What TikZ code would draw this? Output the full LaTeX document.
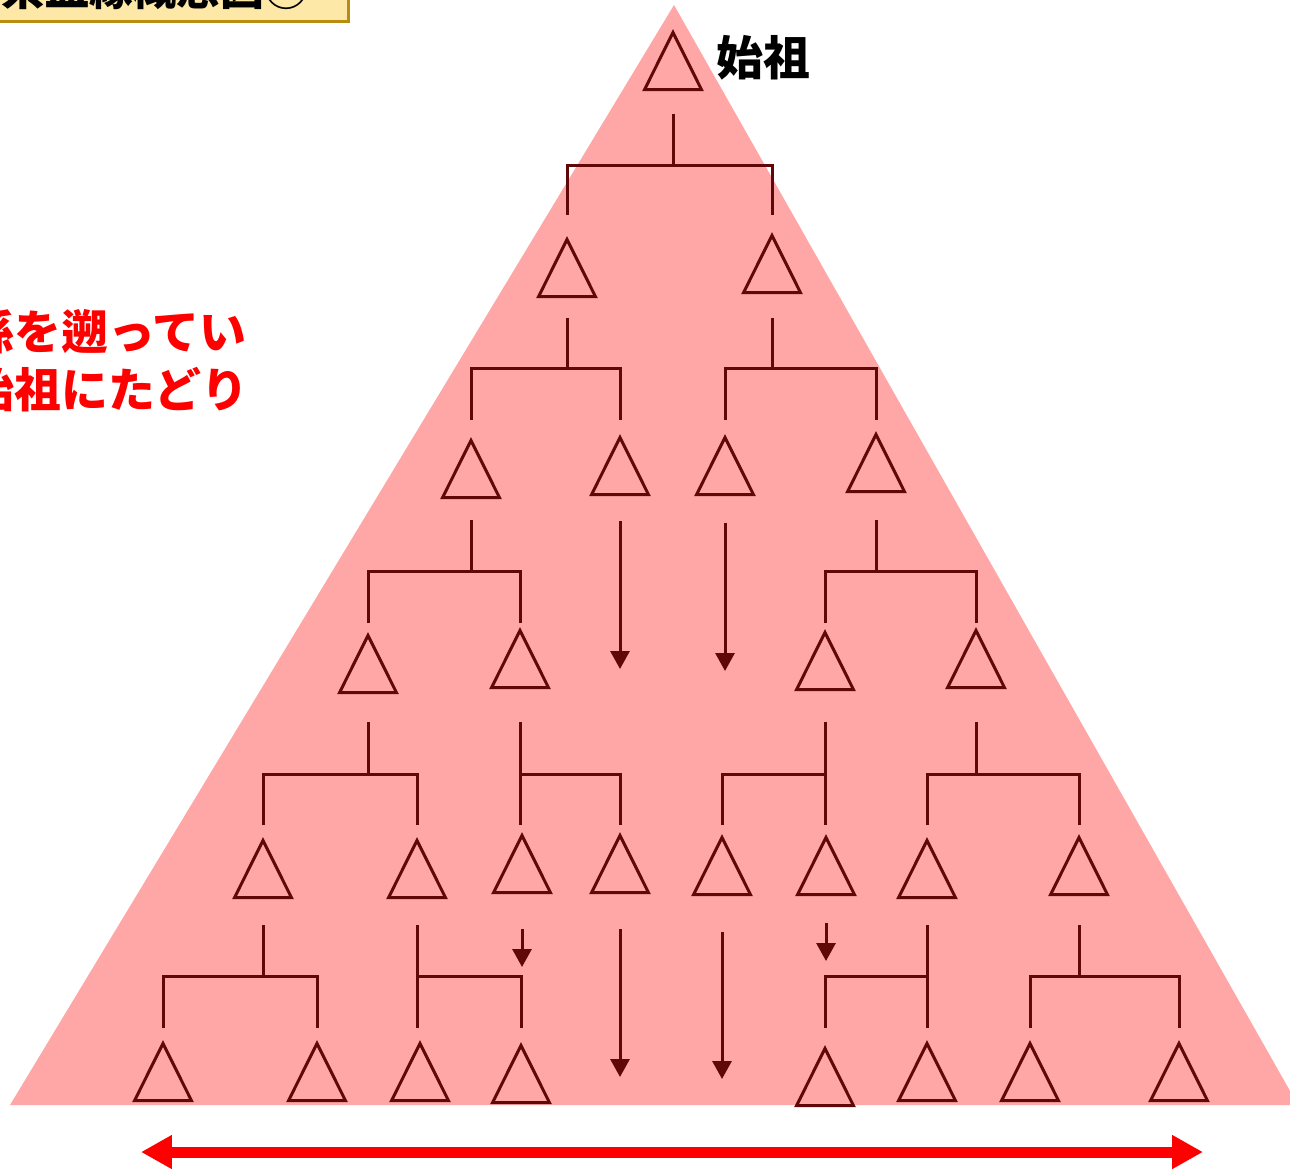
\documentclass[tikz,border=0pt]{standalone}
\usepackage{fontspec}
\newfontfamily\cjk{Noto Sans CJK JP}
\usetikzlibrary{shapes.geometric,arrows.meta}
\definecolor{tribg}{RGB}{255,166,166}
\definecolor{kinline}{RGB}{96,8,8}
\definecolor{titlebg}{RGB}{253,232,168}
\definecolor{titleframe}{RGB}{184,140,16}
\tikzset{
  person/.style={isosceles triangle, shape border rotate=90,
    isosceles triangle apex angle=53, draw=kinline, line width=0.06cm,
    inner sep=0pt, minimum height=1.14cm, minimum width=1.14cm},
  kin/.style={draw=kinline, line width=0.06cm},
  descent/.style={kin, -{Triangle[length=0.36cm,width=0.38cm]}},
  span/.style={draw=red, line width=0.22cm,
    {Triangle[length=0.62cm,width=0.64cm]}-{Triangle[length=0.62cm,width=0.64cm]}},
  bigjp/.style={inner sep=0pt, font=\cjk\bfseries\fontsize{26.7pt}{31pt}\selectfont}
}
\begin{document}
\begin{tikzpicture}[x=0.02cm, y=-0.02cm]
                    \useasboundingbox (0,0) rectangle (1290,1171);
                    \clip (0,0) rectangle (1290,1171);

                    % Drawing the lineage area
                    \fill [tribg] (10,1105) -- (674,5) -- (1298,1105) -- cycle;%

                    % Drawing title box
                    \draw [fill=titlebg, draw=titleframe, line width=0.06cm] (-20,-40) rectangle (348,21);%
                    \node [anchor=base east, inner sep=0pt, font=\cjk\bfseries\fontsize{25pt}{29pt}\selectfont] (title) at (309,5) {男系血縁概念図②};%

                    % Marking hint text
                    \node [bigjp, text=red, anchor=base west] (hintA) at (-33,349) {孫を遡ってい};%
                    \node [bigjp, text=red, anchor=base west] (hintB) at (-33,407) {始祖にたどり};%

                    % Marking the founder
                    \node [person] (r0) at (673,72) {};%
                    \node [bigjp, anchor=west] (founder) at (716,58) {始祖};%

                    % Marking persons of row 1
                    \node [person] (r1a) at (567,279) {};%
                    \node [person] (r1b) at (772,275) {};%

                    % Marking persons of row 2
                    \node [person] (r2a) at (471,480) {};%
                    \node [person] (r2b) at (620,477) {};%
                    \node [person] (r2c) at (725,477) {};%
                    \node [person] (r2d) at (876,474) {};%

                    % Marking persons of row 3
                    \node [person] (r3a) at (368,675) {};%
                    \node [person] (r3b) at (520,670) {};%
                    \node [person] (r3c) at (825,672) {};%
                    \node [person] (r3d) at (976,670) {};%

                    % Marking persons of row 4
                    \node [person] (r4a) at (263,880) {};%
                    \node [person] (r4b) at (417,880) {};%
                    \node [person] (r4c) at (522,875) {};%
                    \node [person] (r4d) at (620,875) {};%
                    \node [person] (r4e) at (722,877) {};%
                    \node [person] (r4f) at (826,877) {};%
                    \node [person] (r4g) at (927,880) {};%
                    \node [person] (r4h) at (1079,877) {};%

                    % Marking persons of row 5
                    \node [person] (r5a) at (163,1083) {};%
                    \node [person] (r5b) at (317,1083) {};%
                    \node [person] (r5c) at (420,1083) {};%
                    \node [person] (r5d) at (521,1085) {};%
                    \node [person] (r5e) at (825,1088) {};%
                    \node [person] (r5f) at (927,1083) {};%
                    \node [person] (r5g) at (1030,1083) {};%
                    \node [person] (r5h) at (1179,1083) {};%

                    % Drawing line r0 to row 1
                    \draw [kin] (r0 |- 0,114) -- (r0 |- 0,165);%
                    \draw [kin] (r1a |- 0,215) -- (r1a |- 0,165) -- (r1b |- 0,165) -- (r1b |- 0,215);%

                    % Drawing line row 1 to row 2
                    \draw [kin] (r1a |- 0,318) -- (r1a |- 0,368);%
                    \draw [kin] (r2a |- 0,420) -- (r2a |- 0,368) -- (r2b |- 0,368) -- (r2b |- 0,420);%
                    \draw [kin] (r1b |- 0,318) -- (r1b |- 0,368);%
                    \draw [kin] (r2c |- 0,420) -- (r2c |- 0,368) -- (r2d |- 0,368) -- (r2d |- 0,420);%

                    % Drawing line row 2 to row 3
                    \draw [kin] (r2a |- 0,520) -- (r2a |- 0,571);%
                    \draw [kin] (r3a |- 0,623) -- (r3a |- 0,571) -- (r3b |- 0,571) -- (r3b |- 0,623);%
                    \draw [descent] (r2b |- 0,521) -- (r2b |- 0,669);%
                    \draw [descent] (r2c |- 0,523) -- (r2c |- 0,671);%
                    \draw [kin] (r2d |- 0,520) -- (r2d |- 0,571);%
                    \draw [kin] (r3c |- 0,623) -- (r3c |- 0,571) -- (r3d |- 0,571) -- (r3d |- 0,623);%

                    % Drawing line row 3 to row 4
                    \draw [kin] (r3a |- 0,722) -- (r3a |- 0,774);%
                    \draw [kin] (r4a |- 0,825) -- (r4a |- 0,774) -- (r4b |- 0,774) -- (r4b |- 0,825);%
                    \draw [kin] (r3b |- 0,722) -- (r3b |- 0,825);%
                    \draw [kin] (r3b |- 0,774) -- (r4d |- 0,774) -- (r4d |- 0,825);%
                    \draw [kin] (r3c |- 0,722) -- (r3c |- 0,825);%
                    \draw [kin] (r3c |- 0,774) -- (r4e |- 0,774) -- (r4e |- 0,825);%
                    \draw [kin] (r3d |- 0,722) -- (r3d |- 0,774);%
                    \draw [kin] (r4g |- 0,825) -- (r4g |- 0,774) -- (r4h |- 0,774) -- (r4h |- 0,825);%

                    % Drawing line row 4 to row 5
                    \draw [kin] (r4a |- 0,925) -- (r4a |- 0,976);%
                    \draw [kin] (r5a |- 0,1028) -- (r5a |- 0,976) -- (r5b |- 0,976) -- (r5b |- 0,1028);%
                    \draw [kin] (r4b |- 0,925) -- (r4b |- 0,1028);%
                    \draw [kin] (r4b |- 0,976) -- (r5d |- 0,976) -- (r5d |- 0,1028);%
                    \draw [descent] (r4c |- 0,929) -- (r4c |- 0,967);%
                    \draw [descent] (r4d |- 0,929) -- (r4d |- 0,1077);%
                    \draw [descent] (r4e |- 0,932) -- (r4e |- 0,1079);%
                    \draw [descent] (r4f |- 0,923) -- (r4f |- 0,961);%
                    \draw [kin] (r4g |- 0,925) -- (r4g |- 0,1028);%
                    \draw [kin] (r4g |- 0,976) -- (r5e |- 0,976) -- (r5e |- 0,1028);%
                    \draw [kin] (r4h |- 0,925) -- (r4h |- 0,976);%
                    \draw [kin] (r5g |- 0,1028) -- (r5g |- 0,976) -- (r5h |- 0,976) -- (r5h |- 0,1028);%

                    % Drawing the generation span
                    \coordinate (spanL) at (141,1152);%
                    \coordinate (spanR) at (1203,1152);%
                    \draw [span] (spanL) -- (spanR);%
\end{tikzpicture}
\end{document}
